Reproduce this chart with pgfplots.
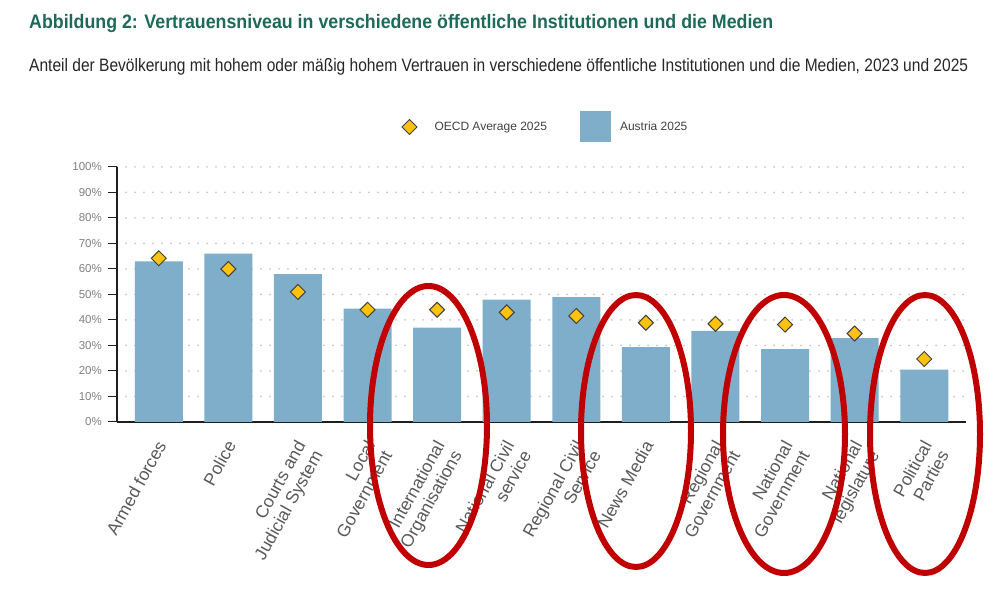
\documentclass[border=0pt]{standalone}
\usepackage{pgfplots}
\pgfplotsset{compat=1.18}
\usepackage{fontspec}
\setmainfont{Liberation Sans}
\usepackage{graphicx}
\definecolor{barblue}{RGB}{127,174,203}
\definecolor{gold}{RGB}{255,194,14}
\definecolor{markedge}{RGB}{64,64,64}
\definecolor{titlegreen}{RGB}{29,105,90}
\definecolor{subtext}{RGB}{38,38,38}
\definecolor{redring}{RGB}{192,0,0}
\definecolor{gridgray}{RGB}{200,200,200}
\definecolor{ylabgray}{RGB}{128,128,128}
\definecolor{xlabgray}{RGB}{89,89,89}
\definecolor{leggray}{RGB}{64,64,64}
\definecolor{axisblack}{RGB}{30,30,30}
\begin{document}
\begin{tikzpicture}[x=1pt,y=1pt]
\useasboundingbox (0,0) rectangle (1005,591);
\node[anchor=base west, inner sep=0pt, text=titlegreen] at (29,562)
  {\resizebox{744pt}{\height}{\fontsize{19.5}{22}\selectfont\bfseries Abbildung 2: Vertrauensniveau in verschiedene öffentliche Institutionen und die Medien}};
\node[anchor=base west, inner sep=0pt, text=subtext] at (29,519.3)
  {\resizebox{939pt}{\height}{\fontsize{18}{20}\selectfont Anteil der Bevölkerung mit hohem oder mäßig hohem Vertrauen in verschiedene öffentliche Institutionen und die Medien, 2023 und 2025}};
\begin{axis}[
  at={(117pt,169pt)}, anchor=south west,
  scale only axis, width=849pt, height=255pt,
  xmin=-0.6, xmax=11.6, ymin=0, ymax=100,
  axis lines*=left,
  axis line style={line width=1.5pt, color=axisblack},
  ytick={0,10,...,100},
  yticklabels={0\%,10\%,20\%,30\%,40\%,50\%,60\%,70\%,80\%,90\%,100\%},
  ymajorgrids,
  grid style={gridgray, line width=2pt, dash pattern=on 0pt off 9pt, line cap=round},
  tick align=outside,
  major tick length=9pt,
  xtick style={draw=none},
  ytick style={line width=1pt, color=axisblack},
  yticklabel style={font=\fontsize{11.5}{12}\selectfont, text=ylabgray, inner sep=0pt, xshift=-6pt},
  xtick={0,...,11},
  xticklabels={{Armed forces},{Police},{Courts and\\Judicial System},{Local\\Government},{International\\Organisations},{National Civil\\service},{Regional Civil\\Service},{News Media},{Regional\\Government},{National\\Government},{National\\legislature},{Political\\Parties}},
  xticklabel style={font=\fontsize{17.5}{19.5}\selectfont, text=xlabgray, align=right, inner sep=0pt, xshift=-3pt, yshift=-8pt, anchor=north east, rotate=61},
  legend columns=2,
  legend style={at={(0.3351,1.157)}, anchor=west, draw=none, fill=none, inner sep=0pt, outer sep=0pt,
    font=\fontsize{12}{14}\selectfont, text=leggray, nodes={inner sep=0pt},
    /tikz/every even column/.append style={column sep=33pt}},
]
\addlegendimage{legend image code/.code={\path[draw=none, fill=none] (0pt,-8pt) rectangle (32.5pt,8pt); \draw[fill=gold, draw=markedge, line width=1pt] (7.5pt,7.5pt) -- (15pt,0pt) -- (7.5pt,-7.5pt) -- (0pt,0pt) -- cycle;}}
\addlegendentry{OECD Average 2025}
\addlegendimage{legend image code/.code={\fill[barblue, draw=none] (0pt,-15.5pt) rectangle (31pt,15.5pt); \path[draw=none, fill=none] (40pt,0pt);}}
\addlegendentry{Austria 2025}
\addplot[ybar, bar width=48pt, bar shift=0pt, fill=barblue, draw=none, forget plot] coordinates {
(0,63) (1,66) (2,58) (3,44.5) (4,37) (5,48) (6,49) (7,29.4) (8,35.7) (9,28.6) (10,32.9) (11,20.5)};
\addplot[only marks, mark=square*, mark size=5.3pt, mark options={rotate=45, fill=gold, draw=markedge, line width=1pt}, forget plot] coordinates {
(0,64.2) (1,60) (2,51) (3,44) (4,44) (5,43) (6,41.6) (7,38.9) (8,38.5) (9,38.2) (10,34.7) (11,24.7)};
\end{axis}
\draw[redring, line width=6pt] (428.5,165.5) ellipse [x radius=58.5pt, y radius=139.5pt];
\draw[redring, line width=6pt] (636,160) ellipse [x radius=55pt, y radius=136pt];
\draw[redring, line width=6pt] (784,157) ellipse [x radius=61pt, y radius=139pt];
\draw[redring, line width=6pt] (925,157) ellipse [x radius=55pt, y radius=139pt];
\end{tikzpicture}
\end{document}
